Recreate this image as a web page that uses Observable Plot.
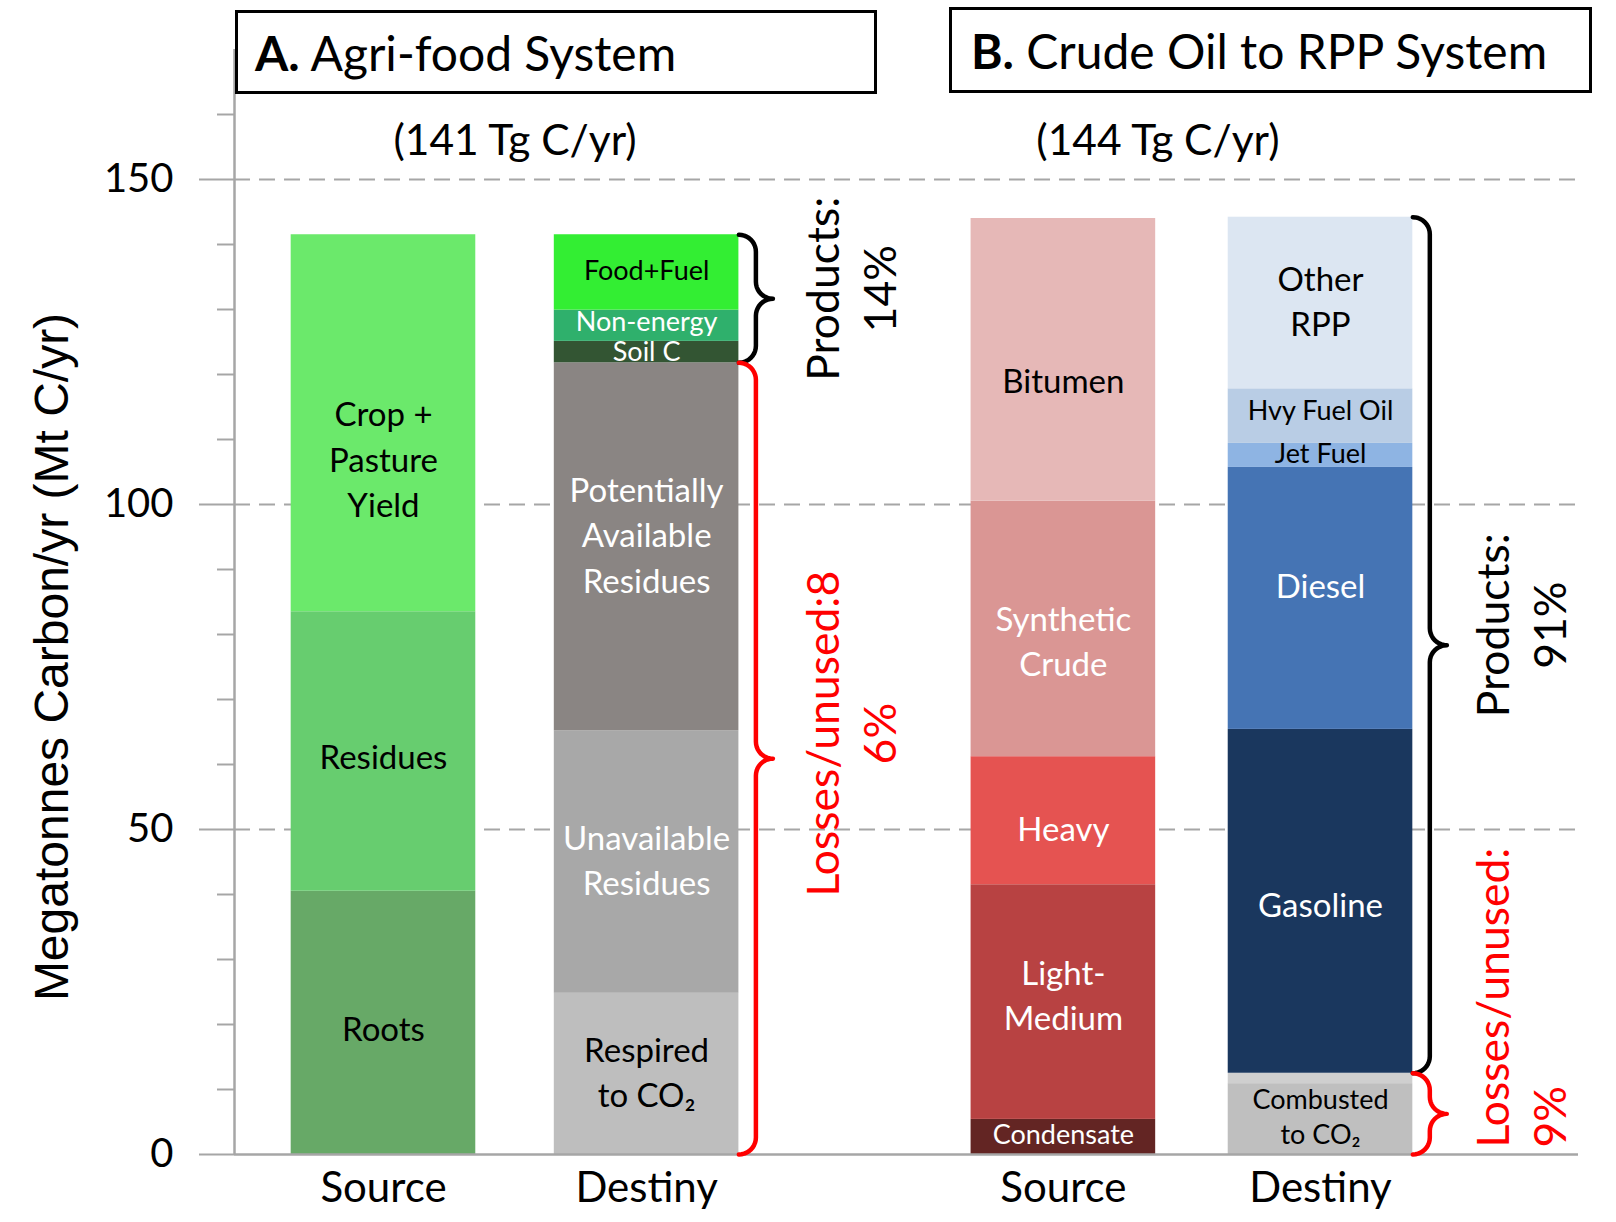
<!DOCTYPE html>
<html><head><meta charset="utf-8">
<script src="https://cdn.jsdelivr.net/npm/d3@7"></script>
<script src="https://cdn.jsdelivr.net/npm/@observablehq/plot@0.6"></script>
<style>
html,body{margin:0;padding:0;background:#fff;}
#wrap{position:relative;width:1616px;height:1222px;}
.tbox{position:absolute;box-sizing:border-box;border:3.5px solid #000;background:#fff;font-family:Lato,sans-serif;font-size:48px;display:flex;align-items:center;white-space:nowrap;color:#000;}
</style></head><body>
<div id="wrap"></div>
<script>
// ---------------- DATA ----------------
const panels = ["A", "B"];
const panelTitles = ["Agri-food System", "Crude Oil to RPP System"];
const panelTotals = ["(141 Tg C/yr)", "(144 Tg C/yr)"];
const columns = ["Source", "Destiny"];

// Panel A: Agri-food (Mt C/yr), stacked bottom -> top
const agriSourceLabels = ["Roots", "Residues", "Crop +\nPasture\nYield"];
const agriSourceValues = [40.5, 43.0, 58.0];
const agriDestinyLabels = ["Respired\nto CO₂", "Unavailable\nResidues", "Potentially\nAvailable\nResidues", "Soil C", "Non-energy", "Food+Fuel"];
const agriDestinyValues = [24.8, 40.4, 56.6, 3.3, 4.8, 11.6];
const agriDestinyIsProduct = [false, false, false, true, true, true];

// Panel B: Crude oil to RPP (Mt C/yr), stacked bottom -> top
const oilSourceLabels = ["Condensate", "Light-\nMedium", "Heavy", "Synthetic\nCrude", "Bitumen"];
const oilSourceValues = [5.4, 36.1, 19.7, 39.3, 43.5];
const oilDestinyLabels = ["Combusted\nto CO₂", "", "Gasoline", "Diesel", "Jet Fuel", "Hvy Fuel Oil", "Other\nRPP"];
const oilDestinyValues = [10.9, 1.6, 52.9, 40.3, 3.7, 8.4, 26.4];
const oilDestinyIsProduct = [false, false, true, true, true, true, true];

const annotationTexts = {
  "A-products": "Products:\n14%",
  "A-losses": "Losses/unused:8\n6%",
  "B-products": "Products:\n91%",
  "B-losses": "Losses/unused:\n9%"
};
const yTicksMajor = [0, 50, 100, 150];
const yTicksMinor = d3.range(10, 161, 10).filter(v => v % 50 !== 0);
const yTitle = "Megatonnes Carbon/yr (Mt C/yr)";

// ---------------- STYLES / LAYOUT ----------------
const segColors = {
  "Roots": "#67a967", "Residues": "#67cd6f", "Crop +\nPasture\nYield": "#6be96b",
  "Respired\nto CO₂": "#bebebe", "Unavailable\nResidues": "#a8a8a8", "Potentially\nAvailable\nResidues": "#8a8583",
  "Soil C": "#335533", "Non-energy": "#2fb06c", "Food+Fuel": "#33ee33",
  "Condensate": "#632523", "Light-\nMedium": "#b84242", "Heavy": "#e55351", "Synthetic\nCrude": "#da9694", "Bitumen": "#e6b8b7",
  "Combusted\nto CO₂": "#bfbfbf", "": "#cfcfcf", "Gasoline": "#1a375e", "Diesel": "#4574b4",
  "Jet Fuel": "#8eb4e3", "Hvy Fuel Oil": "#b9cde5", "Other\nRPP": "#dce6f2"
};
const whiteText = new Set(["Soil C", "Non-energy", "Potentially\nAvailable\nResidues", "Unavailable\nResidues",
  "Condensate", "Light-\nMedium", "Heavy", "Synthetic\nCrude", "Gasoline", "Diesel"]);
const smallText = new Set(["Food+Fuel", "Non-energy", "Soil C", "Condensate", "Combusted\nto CO₂", "Jet Fuel", "Hvy Fuel Oil"]);
// label nudges in px (positive = down), plus a global shift
const labelShiftPx = -4;
const labelNudgePx = {"Crop +\nPasture\nYield": 38, "Bitumen": 23, "Potentially\nAvailable\nResidues": -10,
  "Synthetic\nCrude": 14, "Heavy": 10, "Light-\nMedium": -5, "Diesel": -11, "Roots": 8, "Residues": 7, "Gasoline": 5,
  "Non-energy": -2, "Soil C": 2, "Hvy Fuel Oil": -4};
const annNudgePx = {"A-products": -10, "A-losses": -25, "B-products": -20};

const W = 1616, H = 1222, mL = 234, mR = 38, mT = 49, mB = 68;
const yMax = 170;
const unitPx = 260;
const xStart = -0.573;
const xDomain = [xStart, xStart + (W - mL - mR) / unitPx];
const pxY = (H - mT - mB) / yMax;
const colPos = {A: {Source: 0, Destiny: 1.012}, B: {Source: 2.615, Destiny: 3.604}};
const halfW = 0.355;
const GRID = "#a6a6a6";
const FONT = "Lato, 'Open Sans', sans-serif";

// ---------------- BUILD ----------------
const stacks = [
  {panel: "A", col: "Source", labels: agriSourceLabels, values: agriSourceValues, product: null},
  {panel: "A", col: "Destiny", labels: agriDestinyLabels, values: agriDestinyValues, product: agriDestinyIsProduct},
  {panel: "B", col: "Source", labels: oilSourceLabels, values: oilSourceValues, product: null},
  {panel: "B", col: "Destiny", labels: oilDestinyLabels, values: oilDestinyValues, product: oilDestinyIsProduct}
];
const rows = [];
for (const s of stacks) {
  let acc = 0;
  s.labels.forEach((lab, i) => {
    const v = s.values[i];
    const xc = colPos[s.panel][s.col];
    rows.push({panel: s.panel, col: s.col, label: lab, value: v, y1: acc, y2: acc + v, xc,
      product: s.product ? s.product[i] : null,
      ylab: (acc + v / 2) - ((labelNudgePx[lab] || 0) + labelShiftPx) / pxY});
    acc += v;
  });
}
const colRows = [];
for (const p of panels) for (const c of columns) colRows.push({panel: p, col: c, xc: colPos[p][c]});

function rangeOf(panel, isProd) {
  const r = rows.filter(d => d.panel === panel && d.col === "Destiny" && d.product === isProd);
  return [d3.min(r, d => d.y1), d3.max(r, d => d.y2)];
}
function brace(id, xe, yBot, yTop) {
  const Hpx = (yTop - yBot) * pxY;
  const a = Math.min(17, Hpx / 4);
  const mid = Hpx / 2;
  const pts = [];
  const arc = (cx, cy, t0, t1) => {
    for (let k = 0; k <= 10; k++) {
      const t = t0 + (t1 - t0) * k / 10;
      const dx = cx + a * Math.cos(t), sy = cy + a * Math.sin(t);
      pts.push({id, x: xe + dx / unitPx, y: yTop - sy / pxY});
    }
  };
  arc(0, a, -Math.PI / 2, 0);
  arc(2 * a, mid - a, Math.PI, Math.PI / 2);
  arc(2 * a, mid + a, 3 * Math.PI / 2, Math.PI);
  arc(0, Hpx - a, 0, Math.PI / 2);
  return pts;
}
const blackBraces = [], redBraces = [], annCentered = [], annStart = [];
const annOffset = {A: 0.78, B: 0.765};
for (const p of panels) {
  const xe = colPos[p].Destiny + halfW;
  const pr = rangeOf(p, true), lr = rangeOf(p, false);
  blackBraces.push(...brace(p + "p", xe, pr[0], pr[1]));
  redBraces.push(...brace(p + "l", xe, lr[0], lr[1]));
  const xa = colPos[p].Destiny + annOffset[p];
  const n = k => (annNudgePx[k] || 0) / pxY;
  annCentered.push({x: xa, y: (pr[0] + pr[1]) / 2 - n(p + "-products"), text: annotationTexts[p + "-products"], color: "#000"});
  if (p === "A") annCentered.push({x: xa, y: (lr[0] + lr[1]) / 2 - n(p + "-losses"), text: annotationTexts[p + "-losses"], color: "#ff0000"});
  else annStart.push({x: xa, y: lr[0], text: annotationTexts[p + "-losses"], color: "#ff0000"});
}
const subtitleDxPx = {A: 0, B: -34};
const subtitleRows = panels.map((p, i) => ({x: (colPos[p].Source + colPos[p].Destiny) / 2 + subtitleDxPx[p] / unitPx, text: panelTotals[i]}));

const chart = Plot.plot({
  width: W, height: H,
  marginLeft: mL, marginRight: mR, marginTop: mT, marginBottom: mB,
  x: {domain: xDomain, axis: null},
  y: {domain: [0, yMax], axis: null},
  style: {background: "#fff", fontFamily: FONT, overflow: "visible"},
  marks: [
    Plot.ruleY([50, 100, 150], {stroke: GRID, strokeWidth: 2, strokeDasharray: "16,9"}),
    Plot.axisY(yTicksMinor, {anchor: "left", tickSize: 17, tickFormat: () => "", stroke: GRID, strokeWidth: 2}),
    Plot.axisY(yTicksMajor, {anchor: "left", tickSize: 35, tickPadding: 26, stroke: GRID, strokeWidth: 2,
      fontSize: 40, fontFamily: FONT, fill: "#000", color: "#000", label: null}),
    Plot.ruleX([xDomain[0]], {stroke: GRID, strokeWidth: 2.5}),
    Plot.rect(rows, {x1: d => d.xc - halfW, x2: d => d.xc + halfW, y1: "y1", y2: "y2",
      fill: d => segColors[d.label]}),
    Plot.ruleY([0], {stroke: GRID, strokeWidth: 2.5}),
    Plot.text(rows.filter(d => d.label && !smallText.has(d.label)), {x: "xc", y: "ylab", text: "label",
      fill: d => whiteText.has(d.label) ? "#fff" : "#000", fontSize: 33, lineHeight: 1.38, fontFamily: FONT}),
    Plot.text(rows.filter(d => d.label && smallText.has(d.label)), {x: "xc", y: "ylab", text: "label",
      fill: d => whiteText.has(d.label) ? "#fff" : "#000", fontSize: 27, lineHeight: 1.32, fontFamily: FONT}),
    Plot.line(blackBraces, {x: "x", y: "y", z: "id", stroke: "#000", strokeWidth: 4.5}),
    Plot.line(redBraces, {x: "x", y: "y", z: "id", stroke: "#ff0000", strokeWidth: 4.5}),
    Plot.text(annCentered, {x: "x", y: "y", text: "text", fill: "color", rotate: -90, fontSize: 44.5, lineHeight: 1.27, fontFamily: FONT}),
    Plot.text(annStart, {x: "x", y: "y", text: "text", fill: "color", rotate: -90, textAnchor: "start", dy: -7, fontSize: 44.5, lineHeight: 1.27, fontFamily: FONT}),
    Plot.text(colRows, {x: "xc", y: () => 0, text: "col", dy: 34, fontSize: 42, fontFamily: FONT, fill: "#000"}),
    Plot.text(subtitleRows, {x: "x", frameAnchor: "top", dy: 75, text: "text", fontSize: 42.5, fontFamily: FONT, fill: "#000"}),
    Plot.text([yTitle], {frameAnchor: "left", textAnchor: "middle", text: d => d, rotate: -90, dx: -182, dy: 55, fontSize: 48,
      fontFamily: "'Liberation Sans', Arial, sans-serif", fill: "#000"})
  ]
});
const wrap = document.getElementById("wrap");
wrap.appendChild(chart);
// panel title boxes
const boxes = [
  {left: 235, top: 10, width: 642, height: 84, pad: 17},
  {left: 949, top: 7, width: 643, height: 86, pad: 19}
];
panels.forEach((p, i) => {
  const b = boxes[i];
  const div = document.createElement("div");
  div.className = "tbox";
  Object.assign(div.style, {left: b.left + "px", top: b.top + "px", width: b.width + "px", height: b.height + "px", paddingLeft: b.pad + "px"});
  div.innerHTML = `<span><b>${p}.</b> ${panelTitles[i]}</span>`;
  wrap.appendChild(div);
});
</script>
</body></html>
